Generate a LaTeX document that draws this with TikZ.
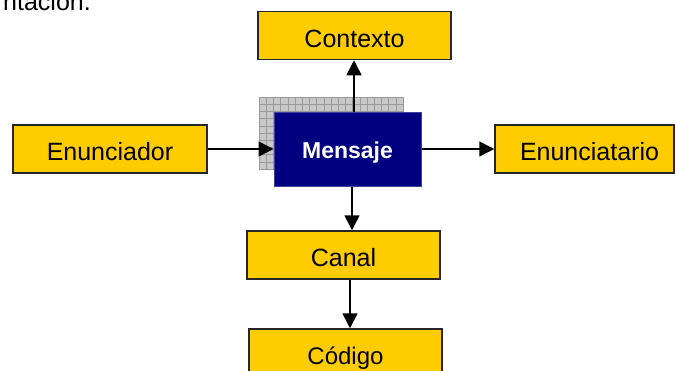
\documentclass[tikz,border=0pt]{standalone}
\usepackage{fontspec}
\setmainfont{Liberation Sans}
\usetikzlibrary{arrows.meta}
\definecolor{boxyellow}{HTML}{FFCC00}
\definecolor{navyfill}{HTML}{000080}
\definecolor{navyedge}{HTML}{4040A0}
\definecolor{gridfill}{HTML}{C8C8C8}
\definecolor{gridline}{HTML}{9A9A9A}
\tikzset{
  ybox/.style={draw=black!85, line width=1.5pt, fill=boxyellow, minimum height=48pt,
    inner sep=0pt, text height=23pt, text depth=0pt,
    font=\fontsize{25}{30}\selectfont, text=black},
  mbox/.style={draw=navyedge, line width=1pt, fill=navyfill, minimum width=147pt,
    minimum height=74pt, inner sep=0pt, text height=18pt, text depth=0pt,
    font=\bfseries\fontsize{23}{28}\selectfont, text=white},
  arr/.style={line width=1.5pt, -{Triangle[length=15pt,width=15pt]}}
}
\begin{document}
\begin{tikzpicture}[x=1pt,y=-1pt]
\useasboundingbox (0,0) rectangle (675,370);
\begin{scope}
\clip (0,0) rectangle (675,370);
% top text, cut off by the page edge as in the reference
\node[anchor=base east, inner sep=0pt, font=\fontsize{25}{30}\selectfont] (top) at (91,10) {ntación.};
% shadow grid
\fill[gridfill] (259,97) rectangle (403,169);
\draw[gridline, line width=0.6pt, step=7.2pt, shift={(259pt,-97pt)}] (0,0) grid (144pt,-72pt);
% nodes
\node[ybox, minimum width=193pt] (ctx) at (354.5,35.5) {Contexto};
\node[mbox] (m) at (347.5,149) {Mensaje};
\node[ybox, minimum width=194pt] (enun) at (110,149) {Enunciador};
\node[ybox, minimum width=179pt] (enut) at (584.5,149) {\hspace*{10pt}Enunciatario};
\node[ybox, minimum width=193pt] (canal) at (343.5,255) {Canal};
\node[ybox, minimum width=193pt, font=\fontsize{24}{29}\selectfont] (cod) at (345.5,353) {Código};
% connectors
\draw[arr] ([xshift=6.5pt]m.north) -- ([xshift=6.5pt]m.north |- ctx.south);
\draw[arr] (enun.east) -- (m.west);
\draw[arr] (m.east) -- (enut.west);
\draw[arr] ([xshift=4.5pt]m.south) -- ([xshift=4.5pt]m.south |- canal.north);
\draw[arr] ([xshift=6.5pt]canal.south) -- ([xshift=6.5pt]canal.south |- cod.north);
\end{scope}
\end{tikzpicture}
\end{document}
